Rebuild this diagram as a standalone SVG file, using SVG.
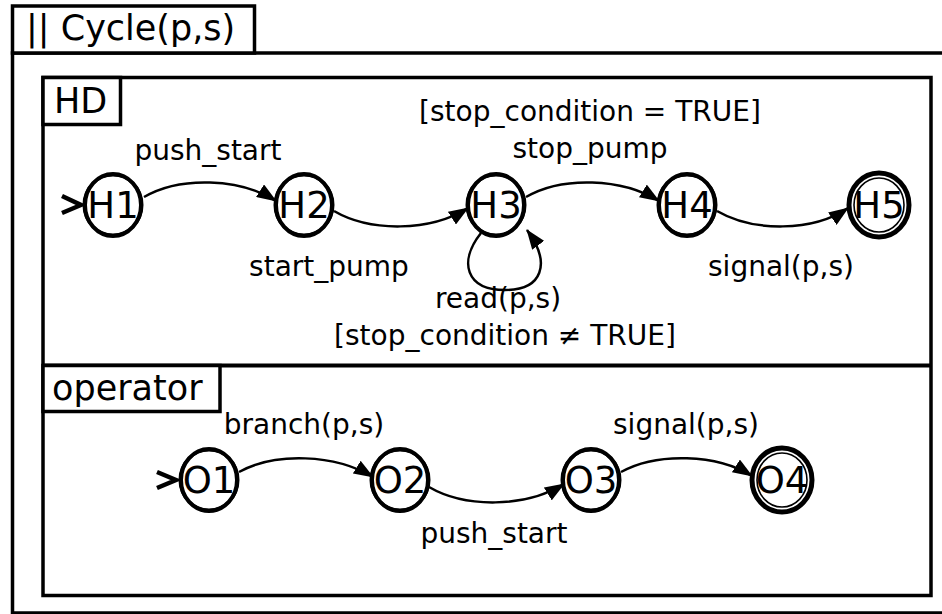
<svg xmlns="http://www.w3.org/2000/svg" width="942" height="614" viewBox="0 0 942 614">
<style>
.frame{fill:none;stroke:#000;stroke-width:3.5}
.tab{fill:#fff;stroke:#000;stroke-width:3.5}
.hdr{font-family:"DejaVu Sans","Liberation Sans",sans-serif;font-size:35px;fill:#000}
.lbl{font-family:"DejaVu Sans","Liberation Sans",sans-serif;font-size:28px;fill:#000;text-anchor:middle}
.nt{font-family:"DejaVu Sans","Liberation Sans",sans-serif;font-size:37px;fill:#000;text-anchor:middle}
.c1{fill:#fff;stroke:#000;stroke-width:3}
.c2{fill:none;stroke:#000;stroke-width:4}
.fin{fill:#fff;stroke:#000;stroke-width:5}
.fin2{fill:none;stroke:#000;stroke-width:1.6}
.edge{fill:none;stroke:#000;stroke-width:2.5;marker-end:url(#ah)}
.start{fill:none;stroke:#000;stroke-width:4.5}
</style>
<defs>
<marker id="ah" viewBox="0 0 20 15" refX="19" refY="7.5" markerWidth="20" markerHeight="15" markerUnits="userSpaceOnUse" orient="auto">
<path d="M0,0 L20,7.5 L0,15 z" fill="#000"/>
</marker>
</defs>
<rect width="942" height="614" fill="#fff"/>
<g id="outer">
<rect class="frame" x="12.5" y="53" width="940" height="560"/>
<rect class="tab" x="12.5" y="6" width="242" height="47"/>
<text class="hdr" x="26" y="40">|| Cycle(p,s)</text>
</g>
<g id="frames">
<rect class="frame" x="43" y="77.5" width="888" height="518" stroke-width="4"/>
<line x1="43" y1="365.5" x2="931" y2="365.5" stroke="#000" stroke-width="4"/>
<rect class="tab" x="43" y="77.5" width="77.5" height="47"/>
<text class="hdr" x="54" y="113">HD</text>
<rect class="tab" x="43" y="365.5" width="177" height="46"/>
<text class="hdr" x="52" y="400">operator</text>
</g>
<g id="connectors">
<polyline class="start" points="62,196 81,205 62,213"/>
<path class="edge" d="M144,197 C180,176 240,178 276,201"/>
<path class="edge" d="M334,211 C370,232 430,232 468,208"/>
<path class="edge" d="M526,197 C562,176 622,178 659,201"/>
<path class="edge" d="M717,211 C753,232 813,232 848,208"/>
<path class="edge" d="M481,233 C458,262 466,290 505,290 C542,290 552,264 527,230"/>
<polyline class="start" points="157,472 176,480 157,488"/>
<path class="edge" d="M239,472 C275,452 335,454 373,477"/>
<path class="edge" d="M429,487 C465,508 525,508 564,484"/>
<path class="edge" d="M621,472 C657,452 717,454 752,476"/>
</g>
<g id="labels">
<text class="lbl" x="208" y="160">push_start</text>
<text class="lbl" x="329" y="276">start_pump</text>
<text class="lbl" x="590" y="121">[stop_condition = TRUE]</text>
<text class="lbl" x="590" y="158">stop_pump</text>
<text class="lbl" x="781" y="276">signal(p,s)</text>
<text class="lbl" x="498" y="308">read(p,s)</text>
<text class="lbl" x="505" y="345">[stop_condition ≠ TRUE]</text>
<text class="lbl" x="304" y="434">branch(p,s)</text>
<text class="lbl" x="494" y="543">push_start</text>
<text class="lbl" x="686" y="434">signal(p,s)</text>
</g>
<g id="H1"><ellipse class="c1" cx="113" cy="205" rx="29" ry="30"/><ellipse class="c2" cx="113" cy="205" rx="28" ry="31"/><text class="nt" x="113" y="218">H1</text></g>
<g id="H2"><ellipse class="c1" cx="304" cy="205" rx="29" ry="30"/><ellipse class="c2" cx="304" cy="205" rx="28" ry="31"/><text class="nt" x="304" y="218">H2</text></g>
<g id="H3"><ellipse class="c1" cx="496" cy="205" rx="29" ry="30"/><ellipse class="c2" cx="496" cy="205" rx="28" ry="31"/><text class="nt" x="496" y="218">H3</text></g>
<g id="H4"><ellipse class="c1" cx="687" cy="205" rx="29" ry="30"/><ellipse class="c2" cx="687" cy="205" rx="28" ry="31"/><text class="nt" x="687" y="218">H4</text></g>
<g id="H5"><ellipse class="fin" cx="879" cy="205" rx="30" ry="32"/><ellipse class="fin2" cx="879" cy="205" rx="25" ry="27"/><text class="nt" x="879" y="218">H5</text></g>
<g id="O1"><ellipse class="c1" cx="209" cy="480" rx="29" ry="30"/><ellipse class="c2" cx="209" cy="480" rx="28" ry="31"/><text class="nt" x="209" y="493">O1</text></g>
<g id="O2"><ellipse class="c1" cx="400" cy="480" rx="29" ry="30"/><ellipse class="c2" cx="400" cy="480" rx="28" ry="31"/><text class="nt" x="400" y="493">O2</text></g>
<g id="O3"><ellipse class="c1" cx="591" cy="480" rx="29" ry="30"/><ellipse class="c2" cx="591" cy="480" rx="28" ry="31"/><text class="nt" x="591" y="493">O3</text></g>
<g id="O4"><ellipse class="fin" cx="782" cy="480" rx="30" ry="32"/><ellipse class="fin2" cx="782" cy="480" rx="25" ry="27"/><text class="nt" x="782" y="493">O4</text></g>
</svg>
